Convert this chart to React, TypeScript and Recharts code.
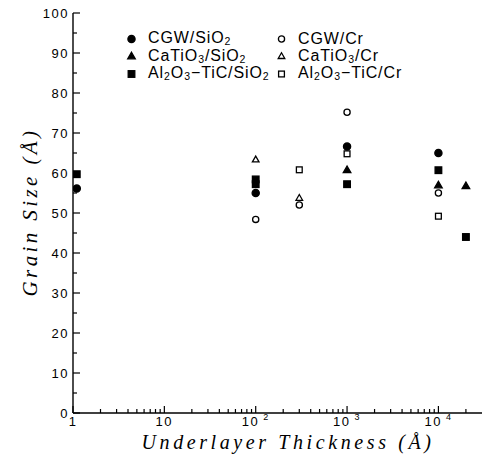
import React from 'react'
import { ScatterChart, Scatter, XAxis, YAxis } from 'recharts'

// thickness values (Å) and grain sizes (Å)
const cgwSio2X = [1.1, 100, 1000, 10000]
const cgwSio2Y = [56.1, 55, 66.6, 65]
const cgwCrX = [100, 300, 1000, 10000]
const cgwCrY = [48.4, 52, 75.2, 55]
const catio3Sio2X = [1000, 10000, 20000]
const catio3Sio2Y = [60.8, 57, 56.8]
const catio3CrX = [100, 300]
const catio3CrY = [63.4, 53.8]
const al2o3Sio2X = [1.1, 100, 100, 1000, 10000, 20000]
const al2o3Sio2Y = [59.7, 58.4, 57.2, 57.2, 60.7, 44]
const al2o3CrX = [300, 1000, 10000]
const al2o3CrY = [60.8, 64.8, 49.2]

const xTicks = [
  1, 2, 3, 4, 5, 6, 7, 8, 9,
  10, 20, 30, 40, 50, 60, 70, 80, 90,
  100, 200, 300, 400, 500, 600, 700, 800, 900,
  1000, 2000, 3000, 4000, 5000, 6000, 7000, 8000, 9000,
  10000, 20000,
]
const yTicks = [0, 5, 10, 15, 20, 25, 30, 35, 40, 45, 50, 55, 60, 65, 70, 75, 80, 85, 90, 95, 100]

type Kind = 'circle' | 'triangle' | 'square'

function zip(xs: number[], ys: number[]) {
  return xs.map((x, i) => ({ x, y: ys[i] }))
}

function Marker({ cx, cy, kind, filled }: { cx: number; cy: number; kind: Kind; filled: boolean }) {
  if (cx == null || cy == null) return null
  const fill = filled ? '#000' : '#fff'
  const sw = 1.3
  if (kind === 'circle') {
    return <circle cx={cx} cy={cy} r={filled ? 3.6 : 3.1} fill={fill} stroke="#000" strokeWidth={sw} />
  }
  if (kind === 'triangle') {
    const h = filled ? 3.8 : 3.3
    return (
      <polygon
        points={`${cx},${cy - h} ${cx + h},${cy + h * 0.75} ${cx - h},${cy + h * 0.75}`}
        fill={fill}
        stroke="#000"
        strokeWidth={sw}
      />
    )
  }
  const s = filled ? 3.3 : 2.9
  return <rect x={cx - s} y={cy - s} width={s * 2} height={s * 2} fill={fill} stroke="#000" strokeWidth={sw} />
}

const sub: React.CSSProperties = { fontSize: 10.5, verticalAlign: 'baseline', position: 'relative', top: 2 }

const series: { name: React.ReactNode; data: { x: number; y: number }[]; kind: Kind; filled: boolean }[] = [
  { name: <>CGW/SiO<sub style={sub}>2</sub></>, data: zip(cgwSio2X, cgwSio2Y), kind: 'circle', filled: true },
  { name: <>CGW/Cr</>, data: zip(cgwCrX, cgwCrY), kind: 'circle', filled: false },
  { name: <>CaTiO<sub style={sub}>3</sub>/SiO<sub style={sub}>2</sub></>, data: zip(catio3Sio2X, catio3Sio2Y), kind: 'triangle', filled: true },
  { name: <>CaTiO<sub style={sub}>3</sub>/Cr</>, data: zip(catio3CrX, catio3CrY), kind: 'triangle', filled: false },
  { name: <>Al<sub style={sub}>2</sub>O<sub style={sub}>3</sub>−TiC/SiO<sub style={sub}>2</sub></>, data: zip(al2o3Sio2X, al2o3Sio2Y), kind: 'square', filled: true },
  { name: <>Al<sub style={sub}>2</sub>O<sub style={sub}>3</sub>−TiC/Cr</>, data: zip(al2o3CrX, al2o3CrY), kind: 'square', filled: false },
]

const tickFont = { fontFamily: 'Liberation Sans, Arial, sans-serif', fontSize: 13, letterSpacing: 1.5 }

function XTick(props: any) {
  const { x, y, payload } = props
  const v = payload.value as number
  const lg = Math.log10(v)
  const exp = Math.round(lg)
  const major = Math.abs(lg - exp) < 1e-9
  return (
    <g>
      <line x1={x} x2={x} y1={y} y2={y - (major ? 7 : 4)} stroke="#000" strokeWidth={1.2} />
      {major && (
        <text x={x} y={y + 13} textAnchor="middle" fill="#000" style={tickFont}>
          {exp === 0 ? '1' : '10'}
          {exp >= 2 && (
            <tspan dx={4} dy={-6} fontSize={9}>
              {exp}
            </tspan>
          )}
        </text>
      )}
    </g>
  )
}

function YTick(props: any) {
  const { x, y, payload } = props
  const v = payload.value as number
  const major = v % 10 === 0
  return (
    <g>
      <line x1={x} x2={x + (major ? 7 : 4)} y1={y} y2={y} stroke="#000" strokeWidth={1.2} />
      {major && (
        <text x={x - 4} y={y + 4.5} textAnchor="end" fill="#000" style={tickFont}>
          {v}
        </text>
      )}
    </g>
  )
}

function LegendBox() {
  return (
    <div
      style={{
        position: 'absolute',
        left: 124,
        top: 30,
        display: 'grid',
        gridTemplateColumns: '150px 180px',
        fontFamily: 'Liberation Sans, Arial, sans-serif',
        fontSize: 16,
        letterSpacing: 0.9,
        color: '#000',
      }}
    >
      {series.map((s, i) => (
        <div key={i} style={{ display: 'flex', alignItems: 'center', height: 17.5, whiteSpace: 'nowrap' }}>
          <svg width={15} height={10} style={{ marginRight: 9, flexShrink: 0 }}>
            <Marker cx={7.5} cy={5} kind={s.kind} filled={s.filled} />
          </svg>
          <span style={{ lineHeight: '15px' }}>{s.name}</span>
        </div>
      ))}
    </div>
  )
}

const labelStyle = {
  fontFamily: 'Liberation Serif, DejaVu Serif, serif',
  fontStyle: 'italic' as const,
  fontSize: 20,
  letterSpacing: 3.6,
}

export default function App() {
  return (
    <div style={{ position: 'absolute', left: 0, top: 0, width: 485, height: 456, background: '#fff' }}>
      <ScatterChart width={485} height={456} margin={{ top: 13, right: 3, bottom: 0, left: 13 }}>
        <XAxis
          dataKey="x"
          type="number"
          scale="log"
          domain={[1, 30000]}
          allowDataOverflow
          ticks={xTicks}
          interval={0}
          tickSize={0}
          tickMargin={0}
          tickLine={false}
          tick={<XTick />}
          height={43}
          axisLine={{ stroke: '#000', strokeWidth: 1.4 }}
          label={{
            content: () => (
              <text x={288} y={449} textAnchor="middle" fill="#000" style={labelStyle}>
                Underlayer Thickness (Å)
              </text>
            ),
          }}
        />
        <YAxis
          dataKey="y"
          type="number"
          domain={[0, 100]}
          ticks={yTicks}
          interval={0}
          tickSize={0}
          tickMargin={0}
          tickLine={false}
          tick={<YTick />}
          width={60}
          axisLine={{ stroke: '#000', strokeWidth: 1.4 }}
          label={{
            content: () => (
              <text
                x={0}
                y={0}
                transform="translate(37 212) rotate(-90)"
                textAnchor="middle"
                fill="#000"
                style={{ ...labelStyle, fontSize: 21, letterSpacing: 3.4 }}
              >
                Grain Size (Å)
              </text>
            ),
          }}
        />
        <YAxis
          yAxisId="r"
          orientation="right"
          type="number"
          domain={[0, 100]}
          width={0}
          tick={false}
          tickLine={false}
          axisLine={{ stroke: '#000', strokeWidth: 1.4 }}
        />
        {series.map((s, i) => (
          <Scatter
            key={i}
            data={s.data}
            isAnimationActive={false}
            shape={(p: any) => <Marker cx={p.cx} cy={p.cy} kind={s.kind} filled={s.filled} />}
          />
        ))}
      </ScatterChart>
      <LegendBox />
    </div>
  )
}
